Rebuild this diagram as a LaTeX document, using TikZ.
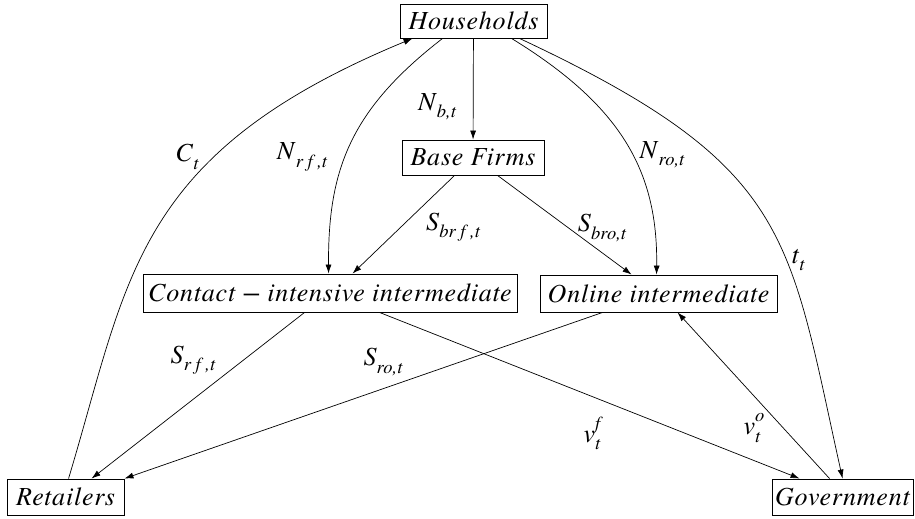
\documentclass[tikz,border=0pt]{standalone}
\usepackage{fontspec}
\setmainfont{texgyretermes}[Extension=.otf, UprightFont=*-regular, ItalicFont=*-italic, BoldFont=*-bold, BoldItalicFont=*-bolditalic]
\newfontfamily\spacedfont{texgyretermes}[Extension=.otf, UprightFont=*-regular, ItalicFont=*-italic, BoldFont=*-bold, BoldItalicFont=*-bolditalic, LetterSpace=3]
\usetikzlibrary{arrows.meta,calc}
\newcommand\subf{\fontsize{18.5}{18.5}\selectfont\itshape}
\newcommand\lb[2]{\textit{#1}\raisebox{-0.28em}{\subf #2}}
\newcommand\lbb[3]{\textit{#1}\makebox[0pt][l]{\raisebox{0.5em}{\subf #3}}\raisebox{-0.28em}{\subf #2}}
\tikzset{
  box/.style={draw, line width=0.9pt, inner sep=0pt, font=\fontsize{26}{30}\selectfont\spacedfont\itshape},
  lab/.style={font=\fontsize{26}{30}\selectfont, inner sep=0pt},
  arr/.style={-{Latex[length=9pt,width=6pt]}, line width=0.7pt}
}
\begin{document}
\begin{tikzpicture}[x=1pt,y=-1pt]
\useasboundingbox (0,0) rectangle (915,519);
\node[box, minimum width=147pt, minimum height=34pt] (hh) at (473.5,21) {Households};
\node[box, minimum width=142pt, minimum height=35pt] (bf) at (473,157.5) {Base Firms};
\node[box, minimum width=374pt, minimum height=38pt] (ci) at (330,293) {Contact − intensive intermediate};
\node[box, minimum width=237pt, minimum height=37pt] (on) at (658.5,293.5) {Online intermediate};
\node[box, minimum width=117pt, minimum height=36pt] (re) at (65.5,497) {Retailers};
\node[box, minimum width=141pt, minimum height=36pt] (go) at (842.5,497) {Government};

\draw[arr] (hh) -- (bf);
\draw[arr] ($(re.north west)+(62,0)$) .. controls (129,278) and (133,154) .. ($(hh.south west)+(13,0)$);
\draw[arr] ($(hh.south west)+(43,0)$) .. controls (350,110) and (328,170) .. ($(ci.north west)+(186,0)$);
\draw[arr] ($(hh.south west)+(112,0)$) .. controls (620,105) and (658,170) .. ($(on.north west)+(117,0)$);
\draw[arr] ($(hh.south west)+(120,0)$) .. controls (792,166) and (788,233) .. ($(go.north west)+(71,0)$);
\draw[arr] ($(bf.south west)+(53,0)$) -- ($(ci.north west)+(210,0)$);
\draw[arr] ($(bf.south west)+(96,0)$) -- ($(on.north west)+(92,0)$);
\draw[arr] ($(ci.south west)+(162,0)$) -- ($(re.north west)+(85,0)$);
\draw[arr] ($(on.south west)+(63,0)$) -- (re.north east);
\draw[arr] ($(ci.south west)+(237,0)$) -- ($(go.north west)+(28,0)$);
\draw[arr] ($(go.north west)+(58,0)$) -- ($(on.south west)+(138,0)$);

\node[lab] (l1) at (437,107) {\lb{N}{b,t}};
\node[lab] (l2) at (187,157) {\lb{C}{t}};
\node[lab] (l3) at (302,157) {\lb{N}{r f ,t}};
\node[lab] (l4) at (662,155) {\lb{N}{ro,t}};
\node[lab] (l5) at (453,227) {\lb{S}{br f ,t}};
\node[lab] (l6) at (602,228) {\lb{S}{bro,t}};
\node[lab] (l7) at (798,260) {\lb{t}{t}};
\node[lab] (l8) at (193,360) {\lb{S}{r f ,t}};
\node[lab] (l9) at (383,362) {\lb{S}{ro,t}};
\node[lab] (l10) at (592,433) {\lbb{v}{t}{f}};
\node[lab] (l11) at (752,428) {\lbb{v}{t}{o}};
\end{tikzpicture}
\end{document}
